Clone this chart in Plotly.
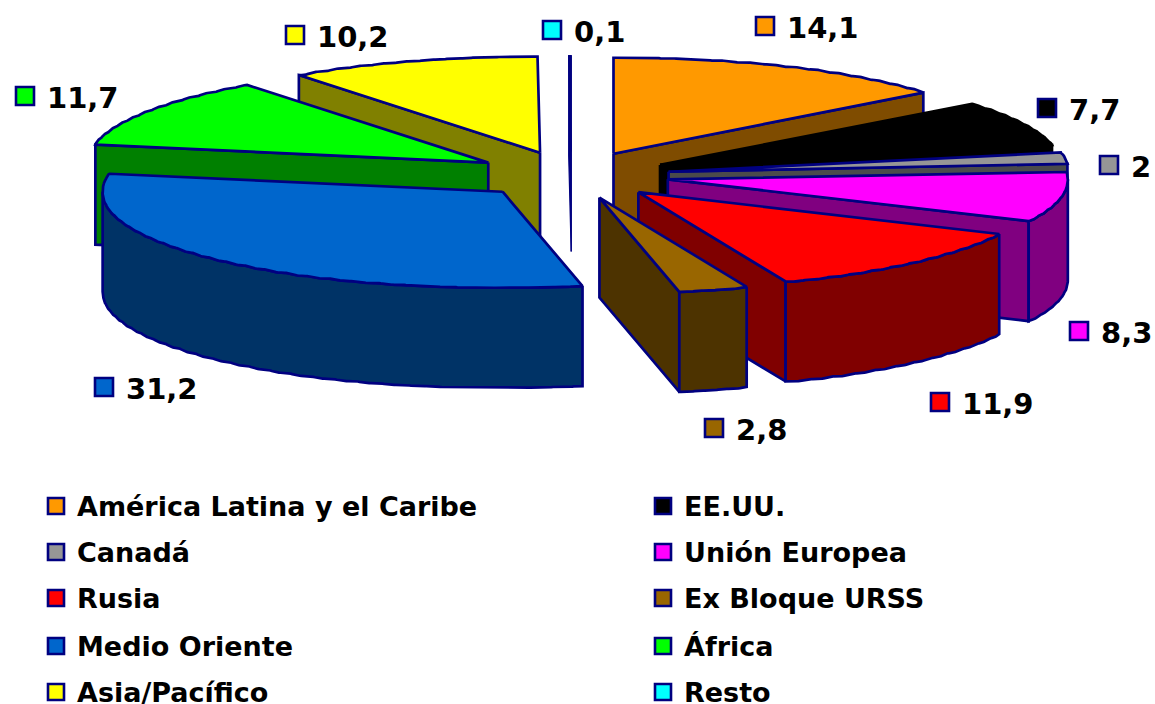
import math
import plotly.graph_objects as go

CATEGORIES = ["América Latina y el Caribe", "EE.UU.", "Canadá", "Unión Europea", "Rusia",
              "Ex Bloque URSS", "Medio Oriente", "África", "Asia/Pacífico", "Resto"]
VALUES = [14.1, 7.7, 2, 8.3, 11.9, 2.8, 31.2, 11.7, 10.2, 0.1]
TOP_COLORS = ["#FF9900", "#000000", "#969696", "#FF00FF", "#FF0000",
              "#996600", "#0066CC", "#00FF00", "#FFFF00", "#00FFFF"]
SIDE_COLORS = ["#7F4C00", "#000000", "#4B4B4B", "#800080", "#800000",
               "#4D3300", "#003366", "#008000", "#808000", "#008080"]
EDGE = "#000080"
FONT = "DejaVu Sans"
LINE_WIDTH = 2.7

# Projection of the tilted pie onto the page
CX, CY, RX, RY, DEPTH = 571.5, 175, 400, 96, 100
EXPLODE = 0.245
# Slices are painted from the back of the pie to the front
PAINT_ORDER = [8, 7, 9, 0, 1, 2, 3, 6, 4, 5]

# Value-label key positions, then the two-column legend grid
LABEL_KEYS = [(765, 26), (1047, 108), (1109, 165), (1079, 331), (940, 402),
              (714, 428), (104, 387), (25, 96), (295, 35), (552, 30)]
LEGEND_X = (56, 663)
LEGEND_Y = (506, 552, 598, 646, 692)


def number_label(v):
    return f"{v:g}".replace(".", ",")


def rim_point(ax, ay, deg):
    # Outer edge with the faceted wobble of the rendered rim, fading out at top and bottom
    t = math.radians(deg)
    wobble = 1.3 * abs(math.sin(t * 50)) * min(1, 2 * abs(math.sin(t)))
    y = ay - RY * math.cos(t)
    return ax + RX * math.sin(t), y + (wobble if math.cos(t) < 0 else -wobble)


def arc(ax, ay, a, b, step=0.25):
    n = max(2, int((b - a) / step) + 1)
    return [rim_point(ax, ay, a + (b - a) * i / (n - 1)) for i in range(n)]


def polygon(points, fill, line=EDGE, width=LINE_WIDTH):
    xs = [p[0] for p in points] + [points[0][0]]
    ys = [p[1] for p in points] + [points[0][1]]
    return go.Scatter(x=xs, y=ys, mode="lines", fill="toself", fillcolor=fill,
                      line=dict(color=line, width=width), hoverinfo="skip", showlegend=False)


total = sum(VALUES)
starts, running = [], 0.0
for v in VALUES:
    starts.append(running / total * 360)
    running += v


def down(points):
    return [(x, y + DEPTH) for x, y in points]


fig = go.Figure()
for i in PAINT_ORDER:
    a = starts[i]
    sweep = VALUES[i] / total * 360
    b = a + sweep
    mid = math.radians((a + b) / 2)
    ax = CX + EXPLODE * RX * math.sin(mid)
    ay = CY - EXPLODE * RY * math.cos(mid)
    line = "#000000" if TOP_COLORS[i] == "#000000" else EDGE
    # A sliver this narrow reads as a single stroke
    sliver = sweep < 1
    width = 1.2 if sliver else LINE_WIDTH
    side_fill = line if sliver else SIDE_COLORS[i]
    top_fill = line if sliver else TOP_COLORS[i]

    # Cut faces that turn toward the viewer
    for deg, visible in ((a, math.sin(math.radians(a)) < 0), (b, math.sin(math.radians(b)) > 0)):
        if visible:
            face = [(ax, ay), rim_point(ax, ay, deg)]
            fig.add_trace(polygon(face + down(face)[::-1], side_fill, line, width))

    # Outer wall on the near half of the ellipse
    lo, hi = max(a, 90), min(b, 270)
    if lo < hi:
        wall = arc(ax, ay, lo, hi)
        fig.add_trace(polygon(wall + down(wall)[::-1], side_fill, line, width))

    fig.add_trace(polygon([(ax, ay)] + arc(ax, ay, a, b), top_fill, line, width))

# Value labels beside their colour keys
fig.add_trace(go.Scatter(
    x=[p[0] for p in LABEL_KEYS], y=[p[1] for p in LABEL_KEYS], mode="markers",
    marker=dict(symbol="square", size=18, color=TOP_COLORS, line=dict(color=EDGE, width=2.6)),
    hoverinfo="skip", showlegend=False))
for (kx, ky), v in zip(LABEL_KEYS, VALUES):
    fig.add_annotation(x=kx + 20, y=ky + 2, text=f"<b>{number_label(v)}</b>", showarrow=False,
                       xanchor="left", yanchor="middle",
                       font=dict(family=FONT, size=29, color="#000000"))

# Two-column legend
legend_pos = [(LEGEND_X[i % 2], LEGEND_Y[i // 2]) for i in range(len(CATEGORIES))]
fig.add_trace(go.Scatter(
    x=[p[0] for p in legend_pos], y=[p[1] for p in legend_pos], mode="markers",
    marker=dict(symbol="square", size=16, color=TOP_COLORS, line=dict(color=EDGE, width=2.6)),
    hoverinfo="skip", showlegend=False))
for (kx, ky), name in zip(legend_pos, CATEGORIES):
    fig.add_annotation(x=kx + 19, y=ky, text=f"<b>{name}</b>", showarrow=False,
                       xanchor="left", yanchor="middle",
                       font=dict(family=FONT, size=27, color="#000000"))

fig.update_layout(
    width=1155, height=704, margin=dict(l=0, r=0, t=0, b=0),
    paper_bgcolor="white", plot_bgcolor="white", showlegend=False,
    xaxis=dict(range=[0, 1155], visible=False),
    yaxis=dict(range=[704, 0], visible=False),
)
fig.write_html("out.html")
